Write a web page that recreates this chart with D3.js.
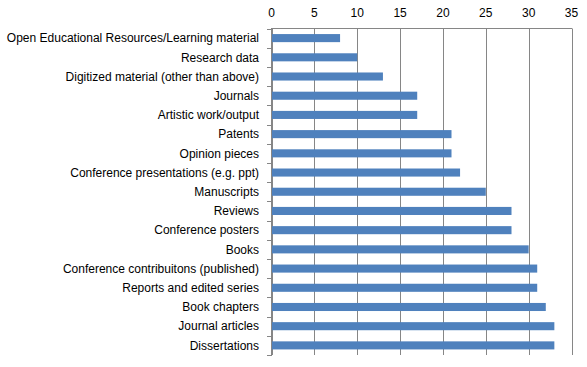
<!DOCTYPE html>
<html><head><meta charset="utf-8">
<script src="https://cdn.jsdelivr.net/npm/d3@7"></script>
<style>body{margin:0;background:#fff}svg{display:block}</style>
</head><body>
<script>
const categories = ["Open Educational Resources/Learning material","Research data","Digitized material (other than above)","Journals","Artistic work/output","Patents","Opinion pieces","Conference presentations (e.g. ppt)","Manuscripts","Reviews","Conference posters","Books","Conference contribuitons (published)","Reports and edited series","Book chapters","Journal articles","Dissertations"];
const values = [8,10,13,17,17,21,21,22,25,28,28,30,31,31,32,33,33];
const tickValues = [0,5,10,15,20,25,30,35];

const W=587,H=367, TOP=28.5, BOT=355;
const svg=d3.select("body").append("svg").attr("width",W).attr("height",H);
const x=d3.scaleLinear().domain([0,35]).range([271.5,571.5]);
const y=d3.scaleBand().domain(categories).range([TOP,BOT]).paddingInner(0.58).paddingOuter(0.29);
const font="'Liberation Sans', Arial, sans-serif";

// gridlines
svg.append("g").selectAll("line").data(tickValues).join("line")
 .attr("x1",d=>Math.round(x(d))+0.5).attr("x2",d=>Math.round(x(d))+0.5)
 .attr("y1",TOP).attr("y2",BOT).attr("stroke","#868686").attr("stroke-width",1);
// top axis line
svg.append("line").attr("x1",271).attr("x2",572).attr("y1",TOP).attr("y2",TOP).attr("stroke","#868686");
// top tick labels
svg.append("g").selectAll("text").data(tickValues).join("text")
 .attr("x",d=>x(d)).attr("y",16.5).attr("text-anchor","middle")
 .attr("font-family",font).attr("font-size","12px").attr("fill","#000").text(d=>d);
// left axis ticks at band boundaries
const bounds=d3.range(categories.length+1).map(i=>TOP+i*((BOT-TOP)/categories.length));
svg.append("g").selectAll("line").data(bounds).join("line")
 .attr("x1",267).attr("x2",272).attr("y1",d=>Math.round(d)+0.5).attr("y2",d=>Math.round(d)+0.5)
 .attr("stroke","#868686");
// bars
svg.append("g").selectAll("rect").data(values).join("rect")
 .attr("x",x(0)).attr("y",(d,i)=>y(categories[i]))
 .attr("width",d=>x(d)-x(0)).attr("height",y.bandwidth()).attr("fill","#4f81bd");
// left axis line
svg.append("line").attr("x1",271.5).attr("x2",271.5).attr("y1",TOP).attr("y2",BOT).attr("stroke","#868686");
// category labels
svg.append("g").selectAll("text").data(categories).join("text")
 .attr("x",259).attr("y",d=>y(d)+y.bandwidth()/2).attr("dy","0.35em")
 .attr("text-anchor","end").attr("font-family",font).attr("font-size","12px").attr("fill","#000").text(d=>d);
</script>
</body></html>
